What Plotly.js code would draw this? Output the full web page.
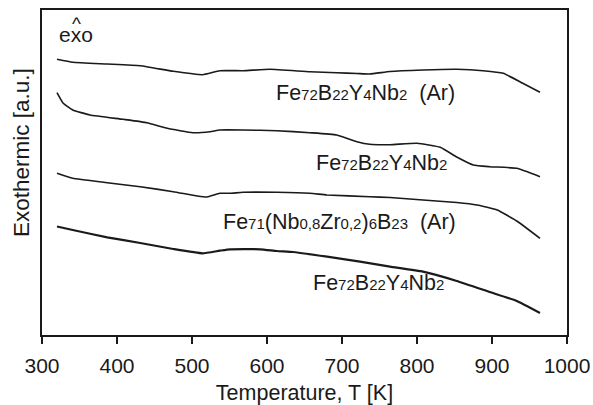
<!DOCTYPE html>
<html><head><meta charset="utf-8">
<script src="https://cdn.plot.ly/plotly-3.0.1.min.js"></script>
<style>html,body{margin:0;padding:0;background:#fff}</style>
</head><body><div id="chart" style="width:593px;height:405px"></div>
<script>
// Temperature [K] and exothermic signal [a.u.]
const tempArA = [320, 341, 387, 431, 475, 514, 537, 568, 604, 657, 693, 720, 737, 764, 808, 853, 888, 915, 941, 964];
const sigArA  = [275.7, 272.7, 271, 269.3, 263.7, 260.3, 264.3, 264.3, 265.7, 263.3, 262.3, 261.5, 261, 263.5, 265, 265.7, 264.3, 261.7, 251.7, 242.7];

const tempA = [320, 328, 341, 364, 408, 440, 467, 501, 524, 537, 568, 613, 657, 693, 720, 737, 764, 800, 831, 853, 875, 897, 933, 964];
const sigA  = [242.3, 232, 225, 220, 215.7, 212.3, 206.7, 202.3, 203.3, 205, 205, 204.3, 202.3, 200, 193.3, 190.7, 190.3, 191.7, 187.7, 178, 170, 168.3, 166.7, 158.3];

const tempArB = [320, 341, 387, 431, 475, 507, 520, 537, 551, 568, 613, 657, 680, 737, 764, 808, 853, 880, 907, 933, 964];
const sigArB  = [161.7, 156.7, 152.3, 148.3, 143.3, 139, 138, 141.7, 141.7, 142.7, 142.7, 141.7, 140, 138.3, 137.5, 135, 132.5, 130, 125, 114, 96.7];

const tempB = [320, 341, 387, 431, 475, 514, 537, 551, 591, 613, 635, 680, 724, 764, 808, 853, 897, 933, 964];
const sigB  = [108.5, 105, 97.7, 92, 86, 81.7, 84.3, 85.7, 85.7, 84, 83, 78.3, 73.3, 68.3, 63.3, 54, 43, 34, 22];

const xTicks = [300, 400, 500, 600, 700, 800, 900, 1000];

const S = s => '<span style="font-size:15px">' + s + '</span>';
const labels = [
  {text: 'Fe' + S('72') + 'B' + S('22') + 'Y' + S('4') + 'Nb' + S('2') + '  (Ar)', x: 731, y: 242},
  {text: 'Fe' + S('72') + 'B' + S('22') + 'Y' + S('4') + 'Nb' + S('2'), x: 753, y: 172},
  {text: 'Fe' + S('71') + '(Nb' + S('0,8') + 'Zr' + S('0,2') + ')' + S('6') + 'B' + S('23') + '  (Ar)', x: 696, y: 113},
  {text: 'Fe' + S('72') + 'B' + S('22') + 'Y' + S('4') + 'Nb' + S('2'), x: 749, y: 52}
];

const FONT = 'Liberation Sans, Arial, sans-serif';
const INK = '#1a1a1a';
const mk = (x, y, w) => ({x: x, y: y, type: 'scatter', mode: 'lines',
  line: {color: INK, width: w, shape: 'spline', smoothing: 0.4}, hoverinfo: 'skip', showlegend: false});

const data = [
  mk(tempArA, sigArA, 1.6),
  mk(tempA, sigA, 1.6),
  mk(tempArB, sigArB, 1.6),
  mk(tempB, sigB, 2.2)
];

const annotations = labels.map(l => ({
  text: l.text, x: l.x, y: l.y, xref: 'x', yref: 'y', showarrow: false,
  font: {family: FONT, size: 21.5, color: INK}, xanchor: 'center', yanchor: 'middle'
}));
annotations.push({text: 'exo', x: 0.064, y: 0.925, xref: 'paper', yref: 'paper', showarrow: false,
  font: {family: FONT, size: 21, color: INK}, xanchor: 'center', yanchor: 'middle'});
annotations.push({text: '^', x: 0.066, y: 0.958, xref: 'paper', yref: 'paper', showarrow: false,
  font: {family: FONT, size: 19, color: INK}, xanchor: 'center', yanchor: 'middle'});
annotations.push({text: 'Exothermic [a.u.]', x: -0.038, y: 0.56, xref: 'paper', yref: 'paper', showarrow: false,
  textangle: -90, font: {family: FONT, size: 22.5, color: INK}, xanchor: 'center', yanchor: 'middle'});

const layout = {
  width: 593, height: 405,
  margin: {l: 42, r: 26, t: 10, b: 70},
  paper_bgcolor: '#fff', plot_bgcolor: '#fff',
  showlegend: false,
  xaxis: {
    range: [300, 1000], tickmode: 'array', tickvals: xTicks, ticktext: xTicks.map(String),
    ticks: 'outside', ticklen: 7, tickwidth: 1.5, tickcolor: INK, ticklabelstandoff: 4,
    showline: true, linewidth: 2, linecolor: INK, mirror: true,
    showgrid: false, zeroline: false,
    tickfont: {family: FONT, size: 21, color: INK},
    title: {text: 'Temperature, T [K]', font: {family: FONT, size: 21.5, color: INK}, standoff: 9}
  },
  xaxis2: {
    range: [300, 1000], overlaying: 'x', anchor: 'y', side: 'bottom',
    tickmode: 'array', tickvals: xTicks, ticks: 'inside', ticklen: 8, tickwidth: 1.5, tickcolor: INK,
    showticklabels: false, showline: false, showgrid: false, zeroline: false
  },
  yaxis: {
    range: [0, 325], showticklabels: false, ticks: '',
    showline: true, linewidth: 2, linecolor: INK, mirror: true,
    showgrid: false, zeroline: false
  },
  annotations: annotations
};

Plotly.newPlot('chart', data, layout, {staticPlot: true, displayModeBar: false});
</script></body></html>
